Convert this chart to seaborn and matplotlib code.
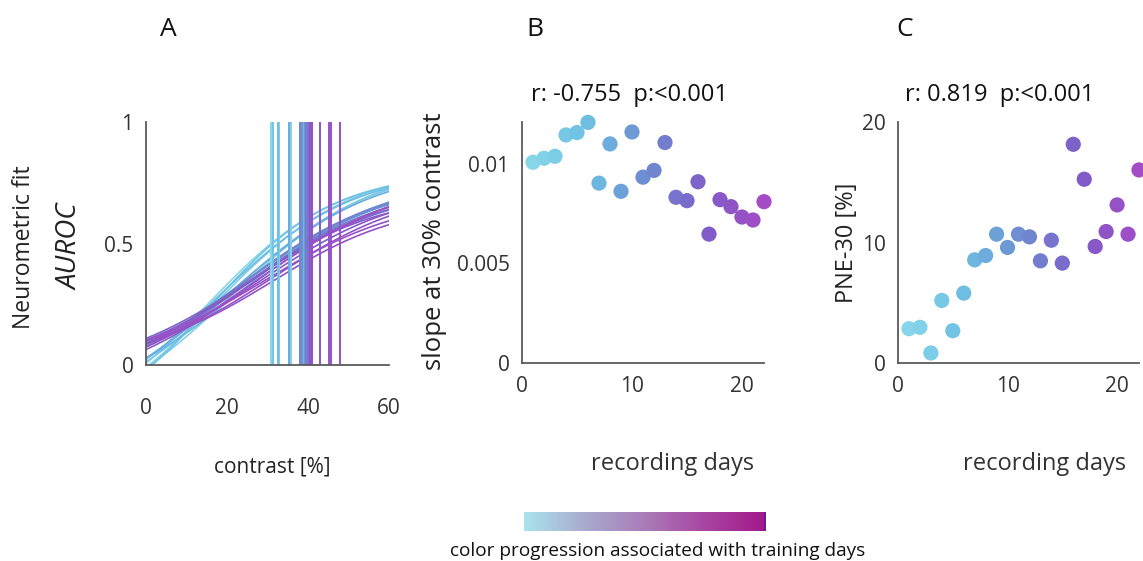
import numpy as np
import pandas as pd
import matplotlib
matplotlib.use("Agg")
import matplotlib.pyplot as plt
from matplotlib.colors import LinearSegmentedColormap
import seaborn as sns

sns.set_theme(style="white")
plt.rcParams["font.family"] = ["Open Sans", "DejaVu Sans"]

# ---- data -------------------------------------------------------------
days = np.arange(1, 23)

# neurometric fit per recording day: threshold (AUROC = 0.5), asymptotes, slope
thresholds = [30.9, 35.7, 32.8, 35.2, 31.3, 32.6, 39.1, 35.4, 38.0, 39.2, 38.5,
              38.1, 39.5, 40.0, 40.5, 41.0, 43.0, 40.6, 45.1, 47.9, 45.7, 41.1]
lower = [-0.30, -0.28, -0.32, -0.25, -0.30, -0.26, -0.18, -0.22, -0.12, -0.10, -0.10,
         -0.14, -0.06, -0.03, -0.04, -0.12, -0.05, -0.02, -0.03, 0.02, -0.02, -0.10]
upper = [0.80, 0.84, 0.82, 0.83, 0.79, 0.81, 0.78, 0.82, 0.76, 0.77, 0.76,
         0.78, 0.74, 0.72, 0.74, 0.78, 0.74, 0.70, 0.74, 0.67, 0.70, 0.78]
spread = [16, 18, 17, 18, 15, 17, 18, 18, 18, 18, 18,
          19, 17, 16, 18, 19, 18, 16, 18, 16, 18, 19]

slope_30 = [0.01008, 0.01028, 0.01038, 0.01145, 0.01157, 0.01208, 0.00903, 0.01100,
            0.00862, 0.01160, 0.00933, 0.00967, 0.01107, 0.00832, 0.00815, 0.00910,
            0.00647, 0.00820, 0.00785, 0.00733, 0.00718, 0.00810]
pne_30 = [2.85, 2.96, 0.83, 5.19, 2.68, 5.80, 8.56, 8.92, 10.69, 9.59, 10.69,
          10.47, 8.48, 10.19, 8.29, 18.15, 15.25, 9.67, 10.91, 13.12, 10.69, 16.02]

slope_stats = "r: -0.755  p:<0.001"
pne_stats = "r: 0.819  p:<0.001"

# ---- colours ----------------------------------------------------------
day_cmap = LinearSegmentedColormap.from_list(
    "days", ["#86d6ea", "#6cbde2", "#6e8ad0", "#7f5cc8", "#a34cc6"])
day_colors = {d: day_cmap((d - 1) / (len(days) - 1)) for d in days}
bar_cmap = LinearSegmentedColormap.from_list(
    "bar", ["#aae3ec", "#a9abce", "#a97cb8", "#a845a2", "#a2188a"])

# ---- fitted curves ----------------------------------------------------
contrast = np.linspace(0, 60, 241)
rows = []
for d, t, lo, hi, s in zip(days, thresholds, lower, upper, spread):
    p = (0.5 - lo) / (hi - lo)
    mid = t - s * np.log(p / (1 - p))
    y = lo + (hi - lo) / (1 + np.exp(-(contrast - mid) / s))
    rows.append(pd.DataFrame({"day": d, "contrast": contrast, "auroc": y}))
curves = pd.DataFrame(pd.concat(rows, ignore_index=True))
points = pd.DataFrame({"day": days, "slope": slope_30, "pne": pne_30})

# ---- figure -----------------------------------------------------------
W, H = 1143, 561
fig = plt.figure(figsize=(W / 100, H / 100), dpi=100)

def px_axes(x0, x1, y_top, y_bot):
    return fig.add_axes([x0 / W, 1 - y_bot / H, (x1 - x0) / W, (y_bot - y_top) / H])

axA = px_axes(146, 389, 122, 365)
axB = px_axes(522, 764, 122, 363)
axC = px_axes(898, 1139, 122, 363)

spine_col = "#5a5a5a"
tick_col = "#333333"
label_fs = 17
for ax in (axA, axB, axC):
    sns.despine(ax=ax)
    for side in ("left", "bottom"):
        ax.spines[side].set_color(spine_col)
        ax.spines[side].set_linewidth(1.3)
    ax.tick_params(direction="in", length=4, width=1, color=spine_col,
                   labelsize=15, labelcolor=tick_col, pad=9)
    ax.grid(False)

# panel A
sns.lineplot(data=curves, x="contrast", y="auroc", hue="day", palette=day_colors,
             units="day", estimator=None, legend=False, linewidth=1.2, ax=axA)
for d, t in zip(days, thresholds):
    axA.axvline(t, color=day_colors[d], linewidth=1.4)
axA.set_xlim(0, 60)
axA.set_ylim(0, 1)
axA.set_xticks([0, 20, 40, 60])
axA.set_yticks([0, 0.5, 1])
axA.set_yticklabels(["0", "0.5", "1"])
axA.tick_params(axis="x", pad=24)
axA.set_xlabel("contrast [%]", fontsize=15, color="#222222")
axA.xaxis.set_label_coords(0.52, -0.375)
axA.set_ylabel("")
fig.text(24 / W, 1 - 247 / H, "Neurometric fit", rotation=90, fontsize=16.5,
         color="#222222", ha="center", va="center")
fig.text(71 / W, 1 - 247 / H, "AUROC", rotation=90, fontsize=20, style="italic",
         color="#222222", ha="center", va="center")

# panel B
sns.scatterplot(data=points, x="day", y="slope", hue="day", palette=day_colors,
                s=120, linewidth=0, legend=False, ax=axB, clip_on=False)
axB.set_xlim(0, 22)
axB.set_ylim(0, 0.0121)
axB.set_xticks([0, 10, 20])
axB.set_yticks([0, 0.005, 0.01])
axB.set_yticklabels(["0", "0.005", "0.01"])
axB.set_xlabel("recording days", fontsize=label_fs, color="#333333")
axB.xaxis.set_label_coords(0.624, -0.37)
axB.set_ylabel("slope at 30% contrast", fontsize=18.5, color="#222222")
axB.yaxis.set_label_coords(-0.31, 0.505)
axB.text(0.446, 1.11, slope_stats, transform=axB.transAxes, fontsize=label_fs,
         color="#111111", ha="center", va="center")

# panel C
sns.scatterplot(data=points, x="day", y="pne", hue="day", palette=day_colors,
                s=120, linewidth=0, legend=False, ax=axC, clip_on=False)
axC.set_xlim(0, 22)
axC.set_ylim(0, 20)
axC.set_xticks([0, 10, 20])
axC.set_yticks([0, 10, 20])
axC.set_xlabel("recording days", fontsize=label_fs, color="#333333")
axC.xaxis.set_label_coords(0.61, -0.37)
axC.set_ylabel("PNE-30 [%]", fontsize=label_fs, color="#222222")
axC.yaxis.set_label_coords(-0.16, 0.5)
axC.text(0.424, 1.11, pne_stats, transform=axC.transAxes, fontsize=label_fs,
         color="#111111", ha="center", va="center")

# panel letters
for letter, x in (("A", 168), ("B", 535), ("C", 905)):
    fig.text(x / W, 1 - 30 / H, letter, fontsize=19, color="#111111",
             ha="center", va="center")

# colour progression bar
cax = px_axes(524, 766, 512, 531)
cax.imshow(np.linspace(0, 1, 256)[None, :], aspect="auto", cmap=bar_cmap,
           extent=[0, 1, 0, 1])
cax.axvline(0.997, color="#6a1a9a", linewidth=1.5)
cax.set_axis_off()
fig.text(658 / W, 1 - 551 / H, "color progression associated with training days",
         fontsize=13.7, color="#111111", ha="center", va="center")

fig.savefig("out.png", dpi=100)
